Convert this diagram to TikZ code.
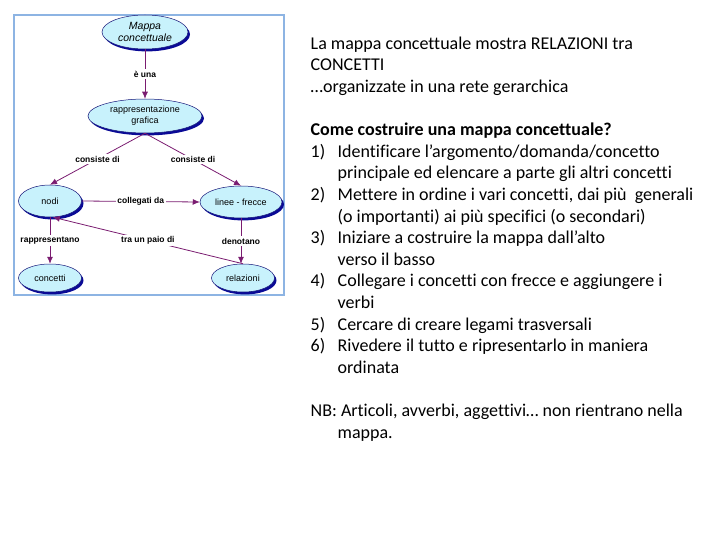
\documentclass[tikz,border=0pt]{standalone}
\usepackage{fontspec}
\setmainfont{Carlito}[Ligatures=NoCommon]
\newfontfamily\arialfont{Liberation Sans}
\usetikzlibrary{arrows.meta,shapes.geometric,shadows}
\definecolor{cornice}{RGB}{141,180,227}
\definecolor{azzurro}{RGB}{200,242,252}
\definecolor{bordoblu}{RGB}{20,20,120}
\definecolor{ombra}{RGB}{10,10,150}
\definecolor{viola}{RGB}{122,28,112}
\newcommand{\voce}[2]{\makebox[27pt][l]{#1}#2}
\newcommand{\segue}[1]{\hspace*{27pt}#1}
\tikzset{
    concetto/.style={ellipse, draw=bordoblu, line width=0.5pt, fill=azzurro, inner sep=0pt, align=center,
        font=\arialfont\fontsize{9}{11}\selectfont,
        drop shadow={shadow xshift=2pt, shadow yshift=-2.4pt, fill=ombra, opacity=1}},
    legame/.style={-{Latex[length=7pt,width=6pt]}, draw=viola, line width=0.8pt},
    etichetta/.style={font=\arialfont\bfseries\fontsize{8.5}{10}\selectfont, fill=white, inner sep=1.5pt},
    slidetext/.style={anchor=north west, inner sep=0pt, align=left, font=\fontsize{18}{21.6}\selectfont}
}

\begin{document}
\begin{tikzpicture}[x=1pt, y=-1pt]
    \useasboundingbox (0,0) rectangle (720,540);
    \draw[cornice, line width=1.5pt] (14,15) rectangle (284,295);

    % mappa
    \node[concetto, minimum width=86pt, minimum height=34pt, font=\arialfont\itshape\fontsize{10.5}{11.6}\selectfont] (mappa) at (145,32) {Mappa\\concettuale};
    \node[concetto, minimum width=114pt, minimum height=34pt, font=\arialfont\fontsize{9}{11}\selectfont] (rappr) at (145,116) {rappresentazione\\grafica};
    \node[concetto, minimum width=63pt, minimum height=32pt] (nodi) at (50,201) {nodi};
    \node[concetto, minimum width=82pt, minimum height=32pt] (linee) at (241,202) {linee - frecce};
    \node[concetto, minimum width=63pt, minimum height=28pt] (concetti) at (50,278) {concetti};
    \node[concetto, minimum width=63pt, minimum height=28pt] (relazioni) at (243,278) {relazioni};

    \draw[legame] (mappa.south) -- node[etichetta] {è una} (rappr.north);
    \draw[legame] (rappr.south) -- node[etichetta] {consiste di} (nodi.north);
    \draw[legame] (rappr.south) -- node[etichetta] {consiste di} (linee.north);
    \draw[legame] (nodi.east) -- node[etichetta] {collegati da} (linee.west);
    \draw[legame] (nodi.south) -- node[etichetta] {rappresentano} (concetti.north);
    \draw[legame] (linee.south) -- node[etichetta] {denotano} (linee.south |- relazioni.north);
    \draw[legame] (relazioni.north) -- node[etichetta] {tra un paio di} (nodi.-80);

    % testo
    \node[slidetext] (testo) at (310.5,34) {\strut La mappa concettuale mostra RELAZIONI tra\\
        CONCETTI\\
        …organizzate in una rete gerarchica\\[21.6pt]
        \textbf{Come costruire una mappa concettuale?}\\
        \voce{1)}{Identificare l’argomento/domanda/concetto}\\
        \segue{principale ed elencare a parte gli altri concetti}\\
        \voce{2)}{Mettere in ordine i vari concetti, dai più\ \ generali}\\
        \segue{(o importanti) ai più specifici (o secondari)}\\
        \voce{3)}{Iniziare a costruire la mappa dall’alto}\\
        \segue{verso il basso}\\
        \voce{4)}{Collegare i concetti con frecce e aggiungere i}\\
        \segue{verbi}\\
        \voce{5)}{Cercare di creare legami trasversali}\\
        \voce{6)}{Rivedere il tutto e ripresentarlo in maniera}\\
        \segue{ordinata}\\[21.6pt]
        NB: Articoli, avverbi, aggettivi… non rientrano nella\\
        \segue{mappa.}};
\end{tikzpicture}
\end{document}
